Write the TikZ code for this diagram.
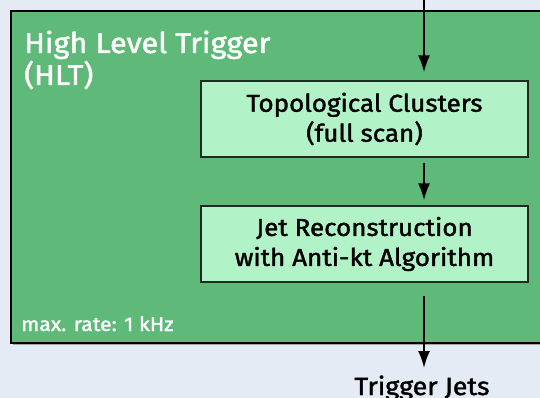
\documentclass[tikz,border=0pt]{standalone}
\usepackage{fontspec}
\setmainfont{Fira Sans}
\newfontfamily\medfont{Fira Sans}[FakeBold=1.6, FakeStretch=1.07]
\usetikzlibrary{arrows.meta}
\definecolor{pagebg}{HTML}{E4EBF4}
\definecolor{hltgreen}{HTML}{5FB979}
\definecolor{stepfill}{HTML}{B1F2C6}
\definecolor{edge}{HTML}{1E2A22}
\tikzset{
  stepbox/.style={draw=edge, line width=1.4pt, fill=stepfill, minimum width=327pt,
    minimum height=76pt, align=center, font=\medfont\fontsize{24.3}{30}\selectfont, text=black, inner sep=0pt},
  flow/.style={line width=2pt, -{Latex[length=17pt,width=12pt]}},
}
\begin{document}
\begin{tikzpicture}[x=1pt,y=-1pt]
  \useasboundingbox (0,0) rectangle (540,398);
  \clip (0,0) rectangle (540,398);
  \fill[pagebg] (0,0) rectangle (540,398);
  % HLT block with a faint shadow
  \fill[black!35] (12.5,12.5) rectangle (560,345);
  \draw[fill=hltgreen, draw=black, line width=2pt] (11,11) rectangle (560,343);
  % multi-line node: the base anchor sits on the last line
  \node[anchor=base west, text=white, align=left, font=\medfont\fontsize{28.6}{32}\selectfont, inner sep=0pt]
    (title) at (24,85) {High Level Trigger\\(HLT)};
  \node[anchor=base west, text=white, font=\medfont\fontsize{19.8}{22}\selectfont, inner sep=0pt]
    (rate) at (21,331) {max. rate: 1 kHz};
  % processing steps
  \node[stepbox] (topo) at (364.5,119) {Topological Clusters\\(full scan)};
  \node[stepbox] (jets) at (364.5,244) {Jet Reconstruction\\with Anti-kt Algorithm};
  \node[anchor=base, font=\medfont\fontsize{25}{28}\selectfont, inner sep=0pt] (out) at (422,395) {Trigger Jets};
  \coordinate (in) at (424,-2);
  \coordinate (outtip) at (424,368);
  \draw[flow] (in) -- ([yshift=8pt]topo.north -| in);
  \draw[flow] ([yshift=-5pt]topo.south -| in) -- ([yshift=5pt]jets.north -| in);
  \draw[flow] ([yshift=-13pt]jets.south -| in) -- (outtip);
\end{tikzpicture}
\end{document}
